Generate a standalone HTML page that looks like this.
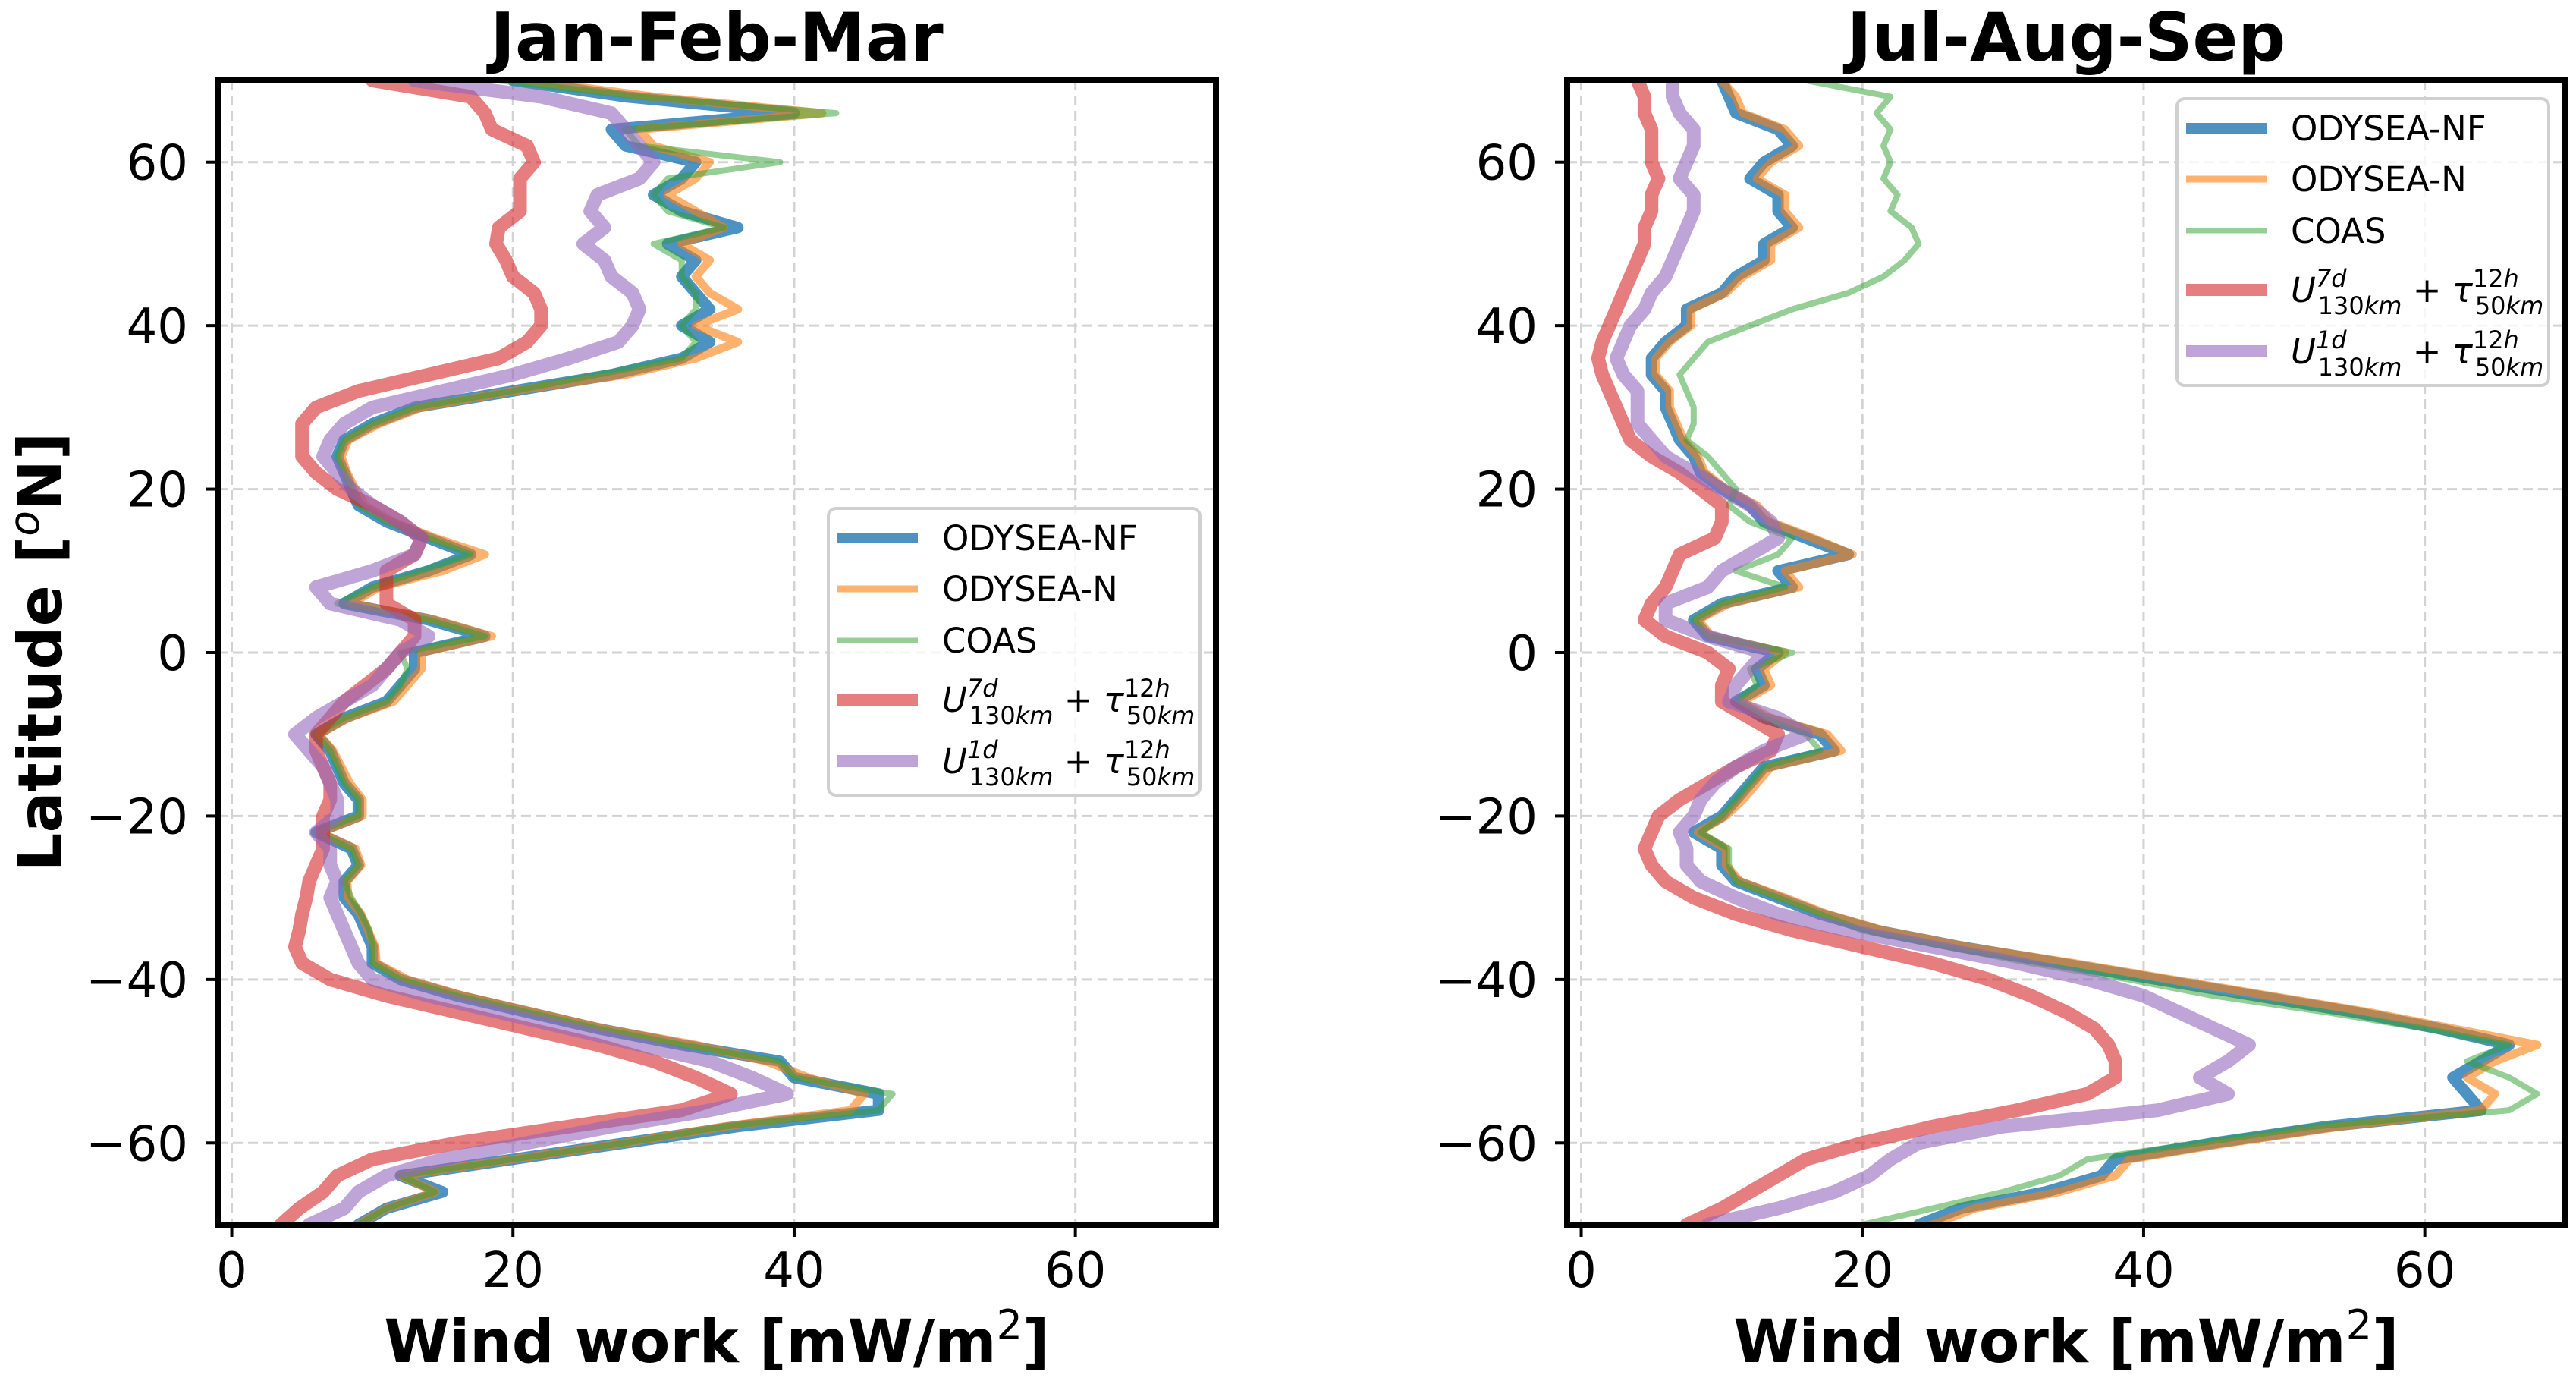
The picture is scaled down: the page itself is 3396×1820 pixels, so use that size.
<!DOCTYPE html>
<html><head><meta charset="utf-8">
<style>
html,body{margin:0;padding:0;background:#fff;}
svg{display:block;font-family:"DejaVu Sans","Liberation Sans",sans-serif;}
</style></head>
<body>
<svg id="fig" width="3396" height="1820" viewBox="0 0 3396 1820" xmlns="http://www.w3.org/2000/svg"></svg>
<script>
// ---- data ----
const lats = [70,68,66,64,62,60,58,56,54,52,50,48,46,44,42,40,38,36,34,32,30,28,26,24,22,20,18,16,14,12,10,8,6,4,2,0,-2,-4,-6,-8,-10,-12,-14,-16,-18,-20,-22,-24,-26,-28,-30,-32,-34,-36,-38,-40,-42,-44,-46,-48,-50,-52,-54,-56,-58,-60,-62,-64,-66,-68,-70];
const seriesNames = ["ODYSEA-NF","ODYSEA-N","COAS","U7d","U1d"];
const xTicks = [0,20,40,60];
const yTicks = [60,40,20,0,-20,-40,-60];
const panelTitles = ["Jan-Feb-Mar","Jul-Aug-Sep"];

// Jan-Feb-Mar
const jfmNF = [20,28,40,27,28,33,32,30,32,36,31,33,32,33,34,32,34,32,27,20,13,10,8,7.5,8,8.5,9,11,14,17,14,10,8,14,18,13,13,12,11,8,6,7,7.5,8,9,9,6,8.5,9,8,8,9,9.5,10,10,12,16,21,26,32,39,40,46,46,36,28,20,12,15,11,9];
const jfmN  = [21,30,42,29,30,34,33,31,33,35,32,34,33,34,36,33,36,33,28,20,13.5,10.5,8.3,7.8,8.2,8.8,9.5,11.5,14.5,18,15,10.5,8.5,14.5,18.5,13.5,13.5,12.5,11.5,8.3,6.2,7.2,7.8,8.4,9.3,9.3,6.3,8.8,9.2,8.2,8.3,9.2,9.7,10.2,10.3,12.5,16.5,21.5,26.5,33,38,41,45,44,35,28,20,12,14.5,11,9];
const jfmCOAS= [19,29,43,28,29,39,31,30,31,35,30,32,32,33,33,32,33,32,26,20,13,10,8,7.5,8,8.5,9,11,14,17,13.5,10,7.5,14,18,12,12.5,12,11,8,6,7,7.5,8,9,9,6,8.5,9,8,8.5,9.2,9.8,10,10,12,16,21,26,32,39,40,47,46,35,28,20,12,14.5,11,9];
const jfmU7 = [10,17,18,18.5,21,21.5,20.5,20.5,20.5,19,18.8,19.5,20,21.5,22,22,21,19,14,9,6,5,5,5,6,7.5,10,12,13.5,13,11,11,11,13,13,12,11,9.5,8,7,6,6,6.5,7,7,6.5,6.5,6.5,6,5.5,5.3,5,4.8,4.5,5,7,11,16,21,26,30,33,35.5,32,24,16,10,7.5,6.5,4.8,3.5];
const jfmU1 = [13,22,27,28,29,30,29,26,25.5,26.5,25,26.5,27,28.5,29,28.5,27.5,24,20,15,10,8,7,6.5,7.5,8.5,10,12,13.5,13,10,6,7,12,14,12,11,10,8,6,4.5,5.5,6.5,7,7.5,7.5,6,7,7,7.5,7,7.5,8,8.5,9,10,14,19,24,29,34,37,39.5,34,27,21,15,11,9,8,5.5];

// Jul-Aug-Sep
const jasNF = [10,10.5,11,14,15,13,12,14,14,15,13,13,11,10,7.5,7.5,6,5,5,6,6,6.5,7,8,8.5,10,12,13,16,19,14,15,10,8,9,14,12.5,13,11,13,17,18,13,12,11,10,8,10,10,11,14,17,21,27,34,41,48,55,61,66,64,62,63,64,53,45,38,37,33,27,24];
const jasN  = [10,11,11.5,14.5,15.5,13.5,12.5,14.5,14.5,15.5,13.5,13.5,11.5,10.3,7.8,7.8,6.3,5.3,5.3,6.3,6.3,6.8,7.3,8.3,8.8,10.3,12.5,13.5,16.5,19.3,14.5,15.5,10.5,8.3,9.3,14.5,13,13.5,11.5,13.5,17.5,18.5,13.5,12.5,11.5,10.3,8.3,10.3,10.3,11.3,14.5,17.5,21.5,27.5,35,42,49,56,62,68,65,63,65,64,54,46,39,38,34,28,25];
const jasCOAS= [16,22,21,22,21.5,22,21.5,22.5,22,23.5,24,23,21.5,19,15,12,9,8,7,7.5,8,8,7.5,9,10,11,10.5,12,15,14,11,14.5,10,8,9,15,12,12.5,11,13,16,17,13,12,11,10,8.5,10.5,10.5,11,14,17,20,26,32,39,45,53,60,66,63,66,68,66,52,44,36,34,30,25,20];
const jasU7 = [4,4.5,4.5,5,5,5,5.5,5,5,4.5,4.5,4,3.5,3,2.5,2,1.5,1.2,1.5,2,2.5,3,3.5,5,7,8.5,10,10,9.5,7,6.5,6,5,4.5,6,9,10.5,10,10,12,14,13.5,11,9,7,5.5,5,4.5,5,6,8,11,15,20,25,29,32,34.5,36.5,37.5,38,38,36,31,25,20,16,14,12,10,7.5];
const jasU1 = [6.5,6.5,7,8,8,7.5,7,8,8,7.5,7,6.5,6,5,4.5,3.5,3,2.5,3,4,4,4,5,6,8,10,12,13.5,14,12,10,9,6,6,9,13,12,11,10.5,14,16,13,11,9.5,8.5,8,7,7.5,7.5,8.5,11,14,19,25,31,36,40,42.5,45,47.5,46,44,46,41,30,24,22,20.5,18,14,9];

const panels = [
  {x0:287, x1:1603, series:[jfmNF,jfmN,jfmCOAS,jfmU7,jfmU1], legend:{x:1092,y:670}},
  {x0:2066, x1:3382, series:[jasNF,jasN,jasCOAS,jasU7,jasU1], legend:{x:2870,y:130}}
];
const yTop = 106, yBot = 1614;
const xMin = -1, xMax = 70, yMin = -70, yMax = 70;
const styles = [
  {c:"#1f77b4", o:0.8, w:15},
  {c:"#ff7f0e", o:0.6, w:11},
  {c:"#2ca02c", o:0.5, w:8},
  {c:"#d62728", o:0.6, w:18},
  {c:"#9467bd", o:0.6, w:18}
];
const NS = "http://www.w3.org/2000/svg";
const svg = document.getElementById('fig');
function el(tag, attrs, parent){
  const e = document.createElementNS(NS, tag);
  for (const k in attrs) e.setAttribute(k, attrs[k]);
  (parent||svg).appendChild(e);
  return e;
}
function yScale(v){ return yTop + (yMax - v) / (yMax - yMin) * (yBot - yTop); }

panels.forEach((p, pi) => {
  const xScale = v => p.x0 + (v - xMin) / (xMax - xMin) * (p.x1 - p.x0);
  const g = el('g', {});
  
  
  const clipId = 'clip' + pi;
  const defs = el('defs', {}, g);
  const cp = el('clipPath', {id: clipId}, defs);
  el('rect', {x:p.x0, y:yTop, width:p.x1-p.x0, height:yBot-yTop}, cp);
  xTicks.forEach(t => {
    const ln = el('line', {x1:xScale(t), x2:xScale(t), y1:yTop, y2:yBot, stroke:'#d3d3d3', 'stroke-width':3, 'stroke-dasharray':'13,7'}, g);
    
    
  });
  yTicks.forEach(t => {
    const ln = el('line', {x1:p.x0, x2:p.x1, y1:yScale(t), y2:yScale(t), stroke:'#d3d3d3', 'stroke-width':3, 'stroke-dasharray':'13,7'}, g);
    
    
  });
  const sg = el('g', {'clip-path':'url(#'+clipId+')'}, g);
  p.series.forEach((vals, si) => {
    const d = vals.map((v, i) => (i ? 'L' : 'M') + xScale(v).toFixed(1) + ',' + yScale(lats[i]).toFixed(1)).join(' ');
    const s = styles[si];
    const path = el('path', {d:d, fill:'none', stroke:s.c, 'stroke-opacity':s.o, 'stroke-width':s.w, 'stroke-linejoin':'round', 'stroke-linecap':'round'}, sg);
    
    
  });
  const fr = el('rect', {x:p.x0, y:yTop, width:p.x1-p.x0, height:yBot-yTop, fill:'none', stroke:'#000', 'stroke-width':8}, g);
  
  
  xTicks.forEach(t => {
    el('line', {x1:xScale(t), x2:xScale(t), y1:yBot, y2:yBot+16, stroke:'#000', 'stroke-width':4}, g);
    const tx = el('text', {x:xScale(t), y:1696, 'font-size':64, 'text-anchor':'middle'}, g);
    tx.textContent = String(t);
    
    
  });
  yTicks.forEach(t => {
    el('line', {x1:p.x0-16, x2:p.x0, y1:yScale(t), y2:yScale(t), stroke:'#000', 'stroke-width':4}, g);
    const tx = el('text', {x:p.x0-39, y:yScale(t)+23, 'font-size':64, 'text-anchor':'end'}, g);
    tx.textContent = t < 0 ? '\u2212' + Math.abs(t) : String(t);
    
    
  });
  const ti = el('text', {x:(p.x0+p.x1)/2, y:80, 'font-size':88, 'font-weight':'bold', 'text-anchor':'middle'}, g);
  ti.textContent = panelTitles[pi];
  
  
  const xl = el('text', {x:(p.x0+p.x1)/2, y:1795, 'font-size':78, 'font-weight':'bold', 'text-anchor':'middle'}, g);
  xl.innerHTML = 'Wind work [mW/m<tspan dy="-30" font-size="54" font-weight="normal">2</tspan><tspan dy="30">]</tspan>';
  
  
  const L = p.legend;
  const lg = el('g', {}, g);
  
  
  el('rect', {x:L.x, y:L.y, width:490, height:378, rx:10, fill:'#fff', 'fill-opacity':0.8, stroke:'#d0d0d0', 'stroke-width':4}, lg);
  const rowY = [39, 106, 174, 252, 333];
  const handleW = [14, 9, 7, 16, 16];
  const labels = [
    'ODYSEA-NF','ODYSEA-N','COAS',
    '<tspan font-style="italic">U</tspan><tspan dy="-20" font-size="32" font-style="italic">7d</tspan><tspan dx="-38" dy="36" font-size="32">130<tspan font-style="italic">km</tspan></tspan><tspan dy="-16"> + </tspan><tspan font-style="italic">τ</tspan><tspan dy="-20" font-size="32">12<tspan font-style="italic">h</tspan></tspan><tspan dx="-58" dy="36" font-size="32">50<tspan font-style="italic">km</tspan></tspan>',
    '<tspan font-style="italic">U</tspan><tspan dy="-20" font-size="32" font-style="italic">1d</tspan><tspan dx="-38" dy="36" font-size="32">130<tspan font-style="italic">km</tspan></tspan><tspan dy="-16"> + </tspan><tspan font-style="italic">τ</tspan><tspan dy="-20" font-size="32">12<tspan font-style="italic">h</tspan></tspan><tspan dx="-58" dy="36" font-size="32">50<tspan font-style="italic">km</tspan></tspan>'
  ];
  labels.forEach((lab, i) => {
    const y = L.y + rowY[i];
    const h = el('line', {x1:L.x+12, x2:L.x+118, y1:y, y2:y, stroke:styles[i].c, 'stroke-opacity':styles[i].o, 'stroke-width':handleW[i]}, lg);
    
    
    const t = el('text', {x:L.x+150, y:y+16, 'font-size':45}, lg);
    t.innerHTML = lab;
    
    
  });
});
const yl = el('text', {x:0, y:0, 'font-size':80, 'font-weight':'bold', 'text-anchor':'middle', transform:'translate(81,859) rotate(-90)'});
yl.innerHTML = 'Latitude [<tspan dy="-30" font-size="55" font-weight="normal" font-style="italic">o</tspan><tspan dy="30">N]</tspan>';


</script>
</body></html>
